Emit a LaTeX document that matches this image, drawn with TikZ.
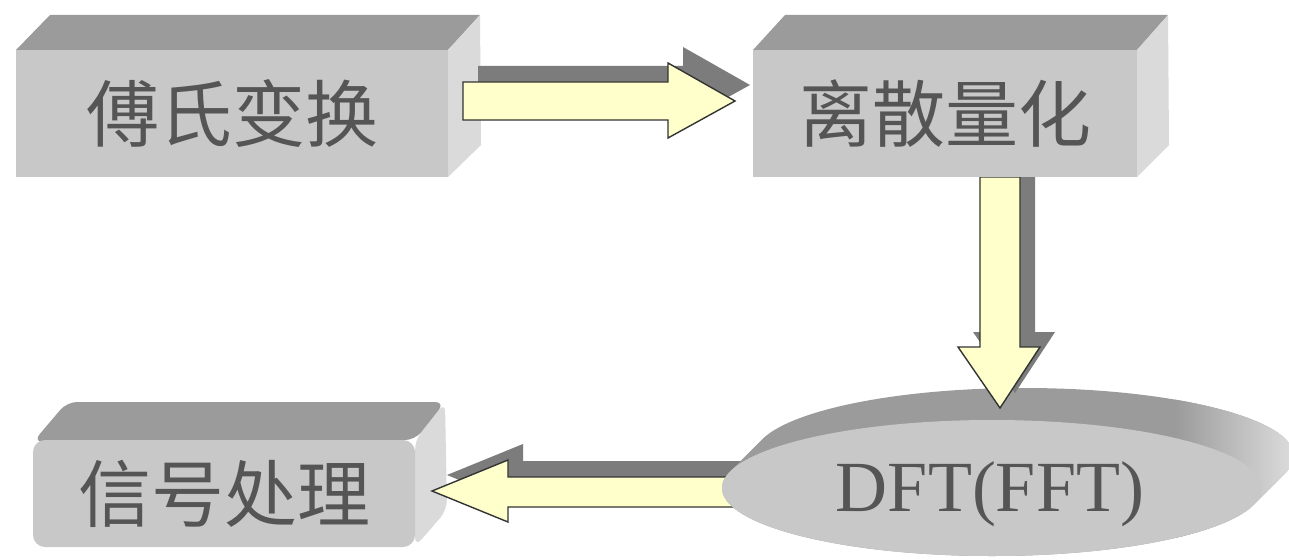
\documentclass[tikz,border=0pt]{standalone}
\usepackage{fontspec}
\newfontfamily\cjk{Noto Sans CJK SC}
\newfontfamily\tms{Liberation Serif}
\usetikzlibrary{shapes.geometric}
\definecolor{frontc}{HTML}{C8C8C8}
\definecolor{topc}{HTML}{9B9B9B}
\definecolor{sidec}{HTML}{DADADA}
\definecolor{txtc}{HTML}{555555}
\definecolor{arrfill}{HTML}{FFFFCC}
\definecolor{arrline}{HTML}{333333}
\definecolor{shadc}{HTML}{7C7C7C}
\tikzset{
  frontbox/.style={fill=frontc, inner sep=0pt, text=txtc,
     font=\cjk\fontsize{73}{80}\selectfont},
  topface/.style={fill=topc},
  sideface/.style={fill=sidec},
  arrowbody/.style={fill=arrfill, draw=arrline, line width=1.4pt, line join=miter},
  arrowshadow/.style={fill=shadc},
}
\begin{document}
\begin{tikzpicture}[x=1pt,y=-1pt]
\useasboundingbox (0,0) rectangle (1289,559);
\fill[white] (0,0) rectangle (1289,559);

% ---- box 3: signal processing (rounded) ----
\fill[sideface, rounded corners=10pt] (415,440) -- (445,402) -- (447,510) -- (415,547) -- cycle;
\fill[topface, rounded corners=10pt] (33,442) -- (67,402) -- (445,402) -- (415,440) -- cycle;
\node[frontbox, rounded corners=12pt, minimum width=382pt, minimum height=107pt] (sig) at (224,493.5) {信号处理};

% ---- arrow 3 (from DFT to signal processing) ----
\fill[arrowshadow, shift={(15,-16)}] (740,477) -- (508,477) -- (508,460) -- (432,491) -- (508,522) -- (508,507) -- (740,507) -- cycle;
\draw[arrowbody] (740,477) -- (508,477) -- (508,460) -- (432,491) -- (508,522) -- (508,507) -- (740,507) -- cycle;

% ---- ellipse DFT(FFT) with extrusion ----
\begin{scope}
  \clip \foreach \i in {0,1,...,32} { (992+\i,488-\i) ellipse [x radius=270pt, y radius=68pt] };
  \fill[topc] (700,300) rectangle (1300,559);
  \shade[left color=topc, right color=sidec, shading angle=90] (1175,300) rectangle (1289,559);
  \fill[sidec] (1289,300) rectangle (1300,559);
\end{scope}
\node[ellipse, fill=frontc, inner sep=0pt, minimum width=540pt, minimum height=136pt] (dft) at (992,488) {};
\node[text=txtc, font=\tms\fontsize{72}{80}\selectfont, inner sep=0pt] (dftlabel) at (990,494) {DFT(FFT)};

% ---- arrow 2 (down) ----
\fill[arrowshadow, shift={(15,-15)}] (980,177) -- (1020,177) -- (1020,347) -- (1040,347) -- (1000,408) -- (958,347) -- (980,347) -- cycle;
\draw[arrowbody] (980,177) -- (1020,177) -- (1020,347) -- (1040,347) -- (1000,408) -- (958,347) -- (980,347) -- cycle;

% ---- box 1: Fourier ----
\fill[topface] (16,50) -- (50,15) -- (480,15) -- (448,50) -- cycle;
\fill[sideface] (448,50) -- (480,15) -- (481,145) -- (448,177) -- cycle;
\node[frontbox, minimum width=432pt, minimum height=127pt] (fourier) at (232,113.5) {傅氏变换};

% ---- box 2: discretization ----
\fill[topface] (753,50) -- (785,15) -- (1168,15) -- (1137,50) -- cycle;
\fill[sideface] (1137,50) -- (1168,15) -- (1169,145) -- (1137,177) -- cycle;
\node[frontbox, minimum width=384pt, minimum height=127pt] (disc) at (945,113.5) {离散量化};

% ---- arrow 1 (right) ----
\fill[arrowshadow, shift={(15,-16)}] (463,82) -- (668,82) -- (668,63) -- (735,101) -- (668,138) -- (668,120) -- (463,120) -- cycle;
\draw[arrowbody] (463,82) -- (668,82) -- (668,63) -- (735,101) -- (668,138) -- (668,120) -- (463,120) -- cycle;
\end{tikzpicture}
\end{document}
